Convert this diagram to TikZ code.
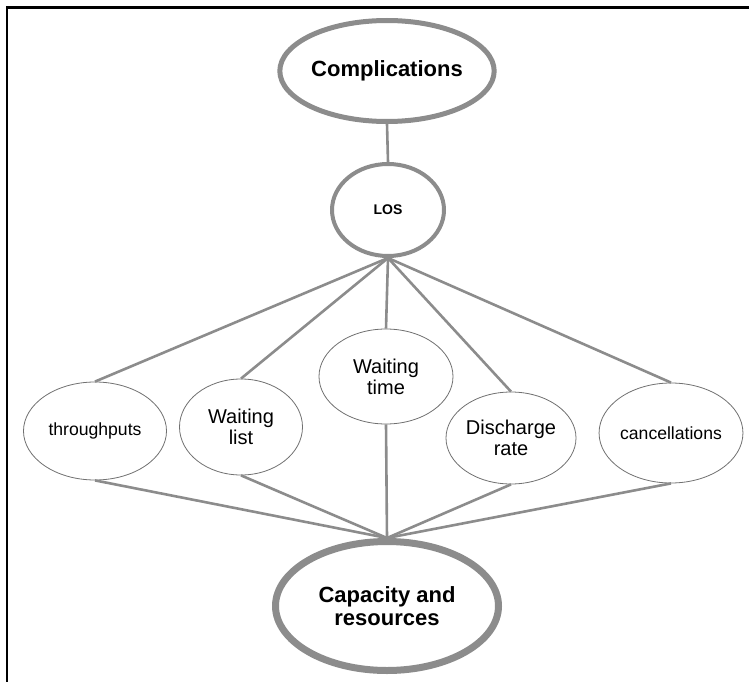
\documentclass[tikz,border=0pt]{standalone}
\usepackage{fontspec}
\setmainfont{Liberation Sans}
\usetikzlibrary{shapes.geometric}
\definecolor{linegray}{HTML}{8C8C8C}
\definecolor{rimgray}{HTML}{707070}
\begin{document}
\begin{tikzpicture}[x=1pt,y=-1pt,
    main/.style={ellipse,draw=linegray,fill=white,inner sep=0pt,align=center,
      font=\fontsize{22}{23}\selectfont\bfseries},
    small/.style={ellipse,draw=rimgray,line width=0.8pt,fill=white,inner sep=0pt,
      align=center,font=\fontsize{20}{21}\selectfont},
    link/.style={draw=linegray,line width=2.6pt}]
\useasboundingbox (0,0) rectangle (749,682);
% frame (cut at right and bottom)
\draw[line width=2.6pt] (7,700) -- (7,7.5) -- (770,7.5);
% top and bottom
\node[main,line width=5pt,minimum width=201pt,minimum height=101pt] (comp) at (387,71) {Complications};
\node[main,line width=4pt,minimum width=112pt,minimum height=92pt,font=\fontsize{14}{16}\selectfont\bfseries] (los) at (388,210) {LOS};
\node[main,line width=7pt,minimum width=223pt,minimum height=129pt] (cap) at (387,606) {Capacity and\\resources};
% middle row
\node[small,minimum width=143pt,minimum height=98pt,font=\fontsize{17.6}{20}\selectfont] (thr) at (95,431) {throughputs};
\node[small,minimum width=123pt,minimum height=96pt] (wl) at (241,427) {Waiting\\list};
\node[small,minimum width=134pt,minimum height=95pt] (wt) at (386,376.5) {Waiting\\time};
\node[small,minimum width=130pt,minimum height=92pt] (dr) at (511,438) {Discharge\\rate};
\node[small,minimum width=140pt,minimum height=100pt,font=\fontsize{17.6}{20}\selectfont] (can) at (671,433) {cancellations};
\draw[link] (comp.south) -- (los.north);
\foreach \n in {thr,wl,wt,dr,can}{
  \draw[link] (los.south) -- (\n.north);
  \draw[link] (\n.south) -- (cap.north);
}
\end{tikzpicture}
\end{document}
